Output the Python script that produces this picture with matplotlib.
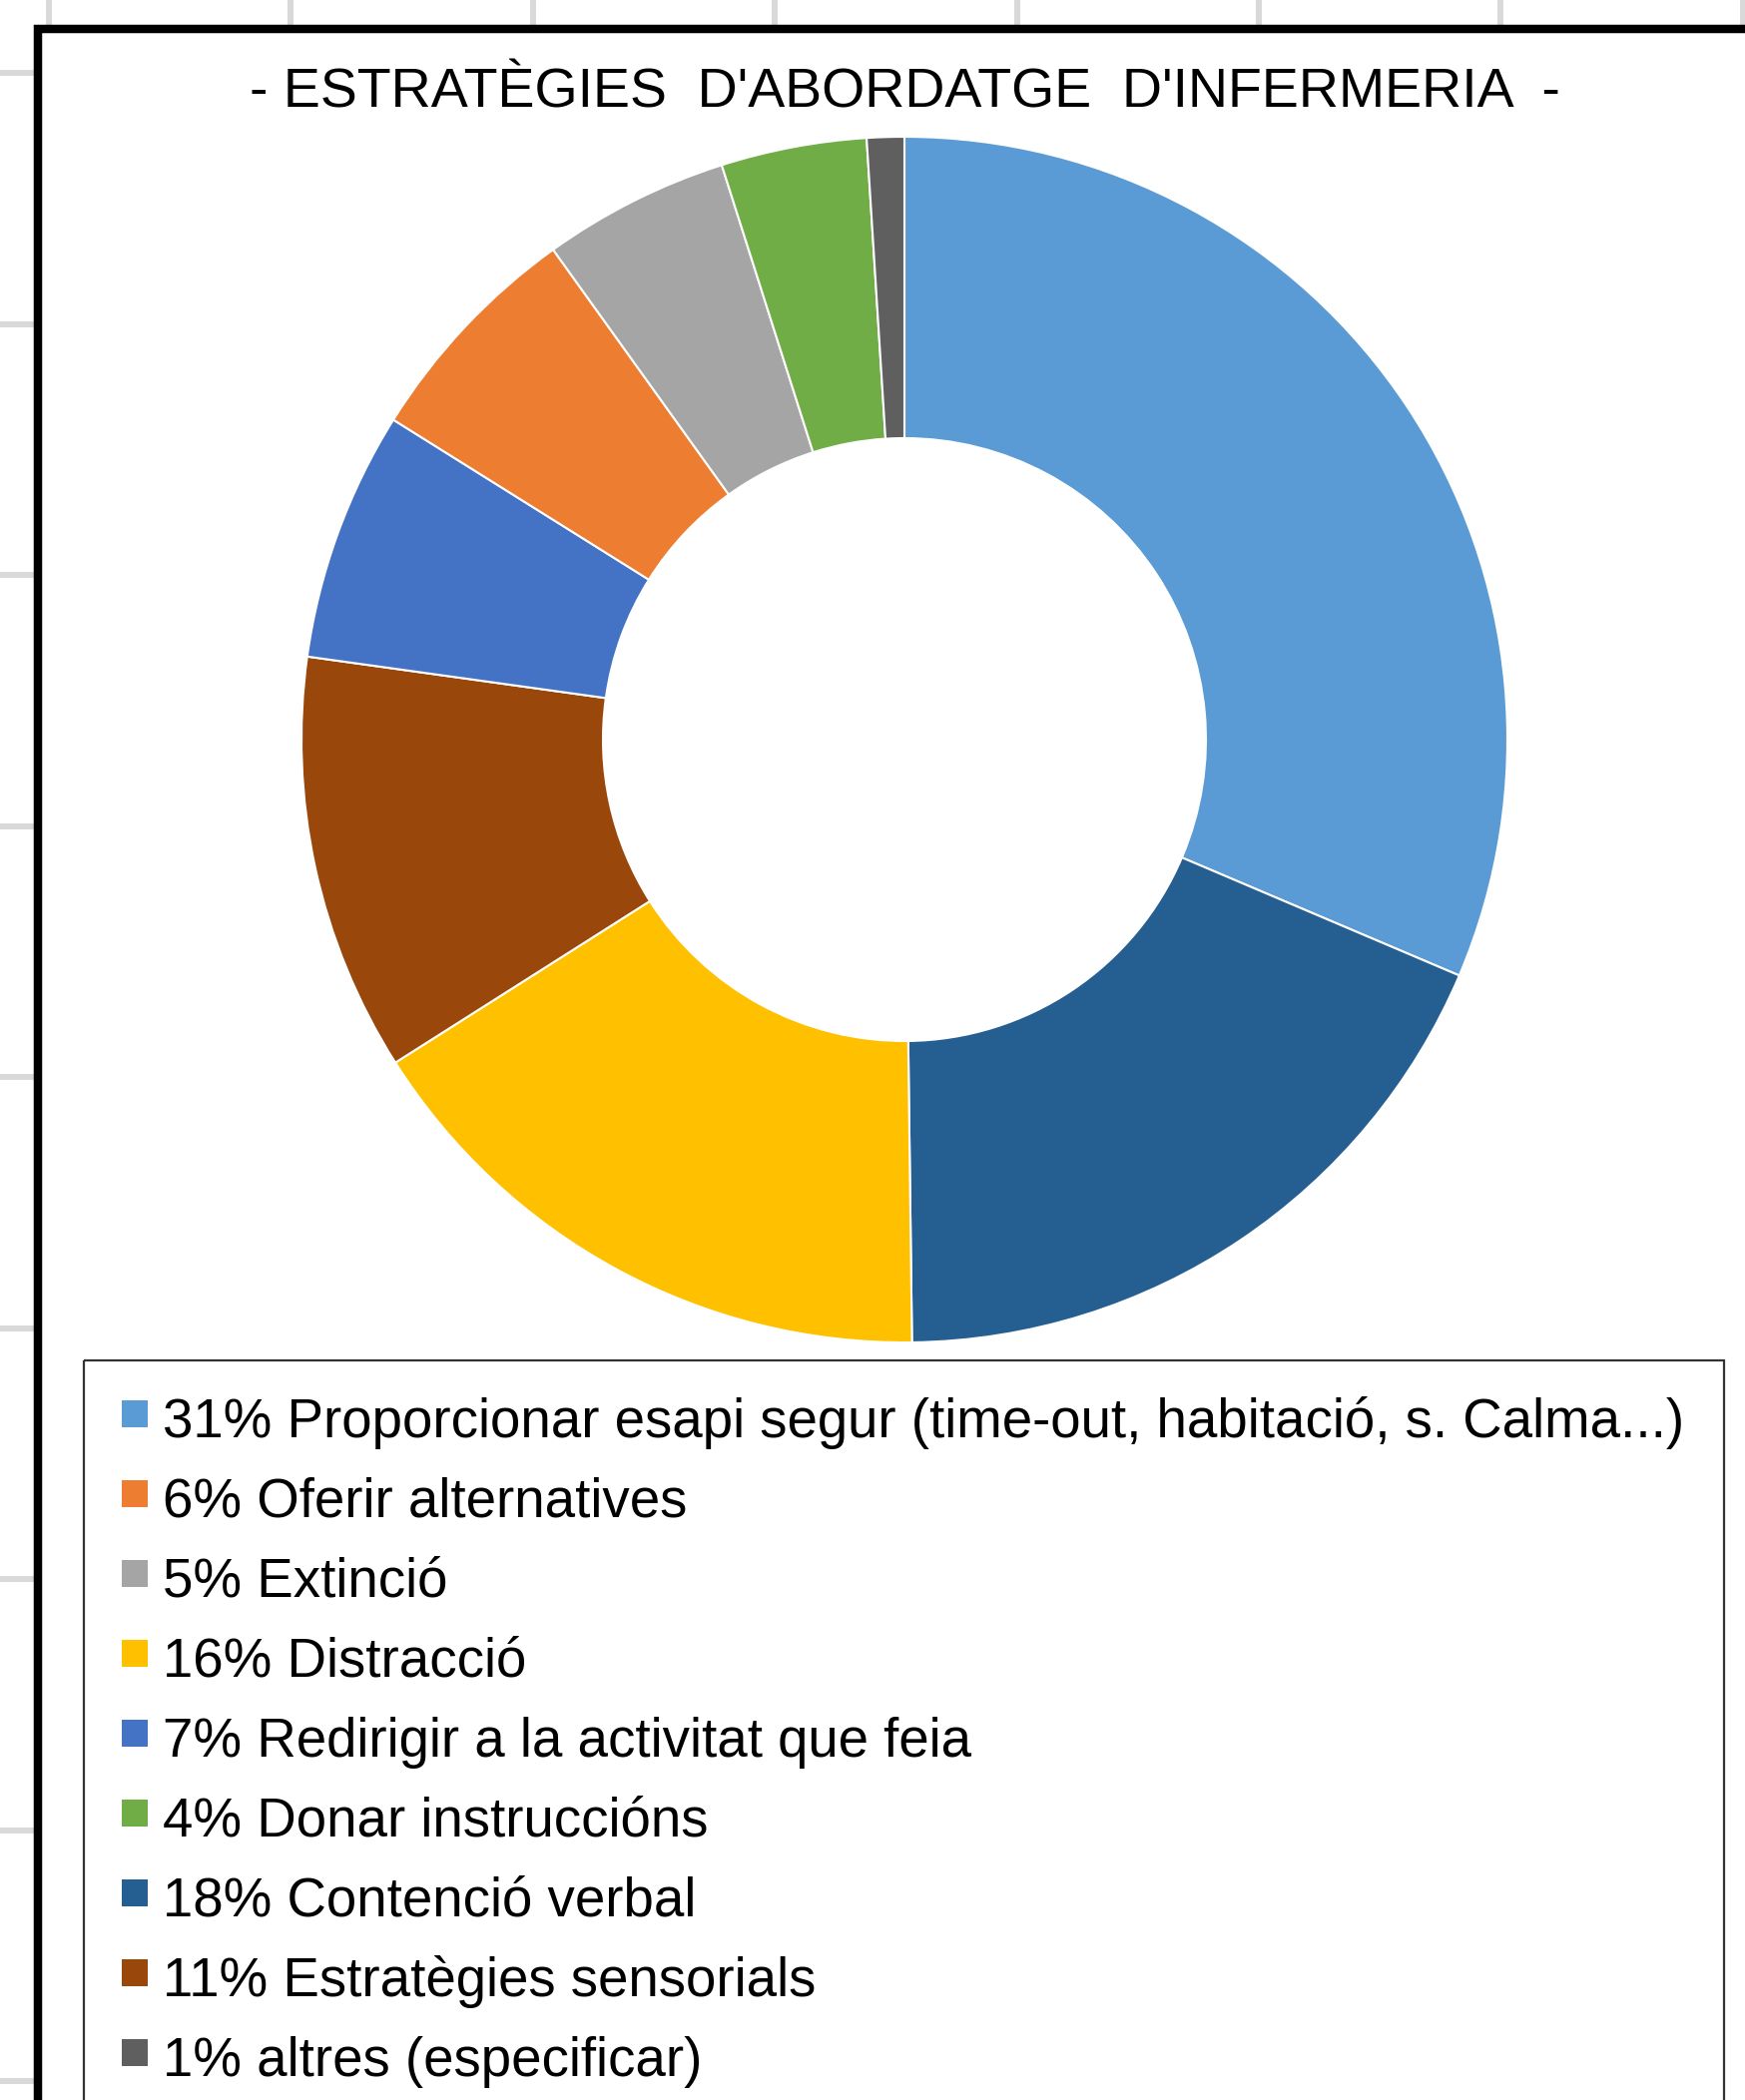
import matplotlib
matplotlib.use("Agg")
import matplotlib.pyplot as plt
from matplotlib.patches import Rectangle
import numpy as np

plt.rcParams['font.family'] = ['Liberation Sans', 'DejaVu Sans']

title = "- ESTRATÈGIES  D'ABORDATGE  D'INFERMERIA  -"

# slices in drawing order (clockwise from 12 o'clock)
categories = [
    "Proporcionar esapi segur (time-out, habitació, s. Calma...)",
    "Contenció verbal",
    "Distracció",
    "Estratègies sensorials",
    "Redirigir a la activitat que feia",
    "Oferir alternatives",
    "Extinció",
    "Donar instruccións",
    "altres (especificar)",
]
# share of each slice
values = [31.4, 18.4, 16.2, 11.2, 6.7, 6.2, 5.0, 3.9, 1.0]
# percentages as printed in the legend
pct_labels = ["31%", "18%", "16%", "11%", "7%", "6%", "5%", "4%", "1%"]
colors = ["#5B9BD5", "#255E91", "#FFC000", "#9A470B", "#4472C4",
          "#ED7D31", "#A5A5A5", "#70AD47", "#5F5F5F"]
# order of the entries in the legend box
legend_order = [0, 5, 6, 2, 4, 7, 1, 3, 8]

W, H = 1748, 2104
fig = plt.figure(figsize=(W / 100, H / 100), dpi=100)
renderer = fig.canvas.get_renderer()


def fit_width(txt, target):
    w = txt.get_window_extent(renderer).width
    txt.set_fontsize(txt.get_fontsize() * target / w)
    return txt.get_fontsize()


# sheet background, pixel coordinates
bg = fig.add_axes([0, 0, 1, 1])
bg.set_xlim(0, W)
bg.set_ylim(H, 0)
bg.axis('off')

# excel cell grid visible around the chart
for x in np.arange(49, W + 10, 242.4):
    bg.plot([x, x], [0, 30], color='#d9d9d9', lw=4.3, solid_capstyle='butt', zorder=0)
for y in np.arange(73, H + 10, 251.5):
    bg.plot([0, 36], [y, y], color='#d9d9d9', lw=4.3, solid_capstyle='butt', zorder=0)

# chart area with thick black border (runs off the right/bottom edge)
bg.add_patch(Rectangle((37.5, 29), W, H, facecolor='white', edgecolor='black',
                       lw=6.1, zorder=1))

t = bg.text(906, 108, title, ha='center', va='baseline', fontsize=44, color='black', zorder=3)
fit_width(t, 1313)

# donut
cx, cy, R = 906, 741, 604
ax = fig.add_axes([(cx - R) / W, 1 - (cy + R) / H, 2 * R / W, 2 * R / H])
wedges, _ = ax.pie(values, colors=colors, startangle=90, counterclock=False, radius=1,
                   wedgeprops=dict(width=0.5, edgecolor='white', linewidth=1.5, clip_on=False))
ax.set_xlim(-1, 1)
ax.set_ylim(-1, 1)
ax.axis('off')

# legend box
bg.add_patch(Rectangle((84, 1363), 1727 - 84, 900, facecolor='none', edgecolor='#333333',
                       lw=1.6, zorder=2))
size = None
for row, i in enumerate(legend_order):
    base = 1440 + 80 * row
    bg.add_patch(Rectangle((122, base - 37), 26, 27, facecolor=colors[i], edgecolor='none', zorder=3))
    lt = bg.text(163, base, f"{pct_labels[i]} {categories[i]}", fontsize=38, va='baseline',
                 color='black', zorder=3)
    if size is None:
        size = fit_width(lt, 1525)
    else:
        lt.set_fontsize(size)

fig.savefig("out.png", dpi=100)
